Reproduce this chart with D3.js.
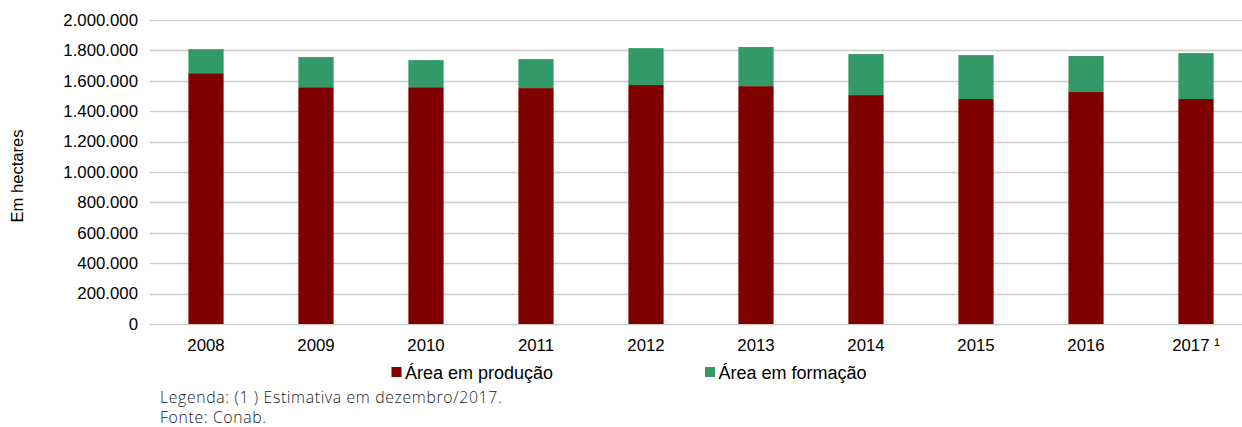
<!DOCTYPE html>
<html><head><meta charset="utf-8">
<script src="https://cdn.jsdelivr.net/npm/d3@7"></script>
<style>body{margin:0;background:#fff}svg{display:block}</style>
</head><body>
<svg id="c" width="1242" height="427"></svg>
<script>
const categories = ["2008","2009","2010","2011","2012","2013","2014","2015","2016","2017 \u00B9"];
const producao = [1650000,1558000,1558000,1552000,1572000,1565000,1506000,1480000,1526000,1480000];
const formacao = [158000,198000,178000,191000,243000,257000,270000,289000,237000,302000];
const seriesNames = ["Área em produção","Área em formação"];
const seriesColors = ["#800000","#339966"];
const yTicks = [0,200000,400000,600000,800000,1000000,1200000,1400000,1600000,1800000,2000000];
const footer = ["Legenda: (1 ) Estimativa em dezembro/2017.","Fonte: Conab."];

const svg = d3.select("#c");
const x = d3.scaleBand().domain(categories).range([151,1251]).paddingInner(0.68).paddingOuter(0.34);
const y = d3.scaleLinear().domain([0,2000000]).range([324,20]);
const fmt = v => d3.format(",")(v).replace(/,/g,".");
const F = "Liberation Sans, Arial, sans-serif";

// gridlines
svg.append("g").selectAll("line").data(yTicks).join("line")
  .attr("x1",150).attr("x2",1242).attr("y1",d=>Math.round(y(d))+0.5).attr("y2",d=>Math.round(y(d))+0.5)
  .attr("stroke","#cccccc").attr("stroke-width",1.3);

// y axis labels
const yAxis = d3.axisLeft(y).tickValues(yTicks).tickFormat(fmt).tickSize(0).tickPadding(0);
const ga = svg.append("g").attr("transform","translate(138,0)").call(yAxis);
ga.select(".domain").remove();
ga.selectAll("text").attr("font-family",F).attr("font-size",16.8).attr("fill","#000");

// x axis labels
const xAxis = d3.axisBottom(x).tickSize(0).tickPadding(0);
const gx = svg.append("g").attr("transform","translate(0,339)").call(xAxis);
gx.select(".domain").remove();
gx.selectAll("text").attr("font-family",F).attr("font-size",16.8).attr("fill","#000");

// stacked bars
const rows = categories.map((c,i)=>({cat:c, p:producao[i], f:formacao[i]}));
const stack = d3.stack().keys(["p","f"])(rows);
svg.append("g").selectAll("g").data(stack).join("g")
  .attr("fill",(d,i)=>seriesColors[i])
  .selectAll("rect").data(d=>d).join("rect")
  .attr("x",d=>x(d.data.cat)).attr("width",x.bandwidth())
  .attr("y",d=>y(d[1])).attr("height",d=>y(d[0])-y(d[1]));

// y title
svg.append("text").attr("transform","translate(23,176) rotate(-90)")
  .attr("text-anchor","middle").attr("font-family",F)
  .attr("font-size",16.6).text("Em hectares");

// legend
const legX = [391.5,705];
const lg = svg.append("g").selectAll("g").data(seriesNames).join("g")
  .attr("transform",(d,i)=>`translate(${legX[i]},367)`);
lg.append("rect").attr("width",10).attr("height",10).attr("fill",(d,i)=>seriesColors[i]);
lg.append("text").attr("x",13.5).attr("y",11.5).attr("font-family",F)
  .attr("font-size",18).attr("fill","#000").text(d=>d);

// footer
svg.append("g").selectAll("text").data(footer).join("text")
  .attr("x",160).attr("y",(d,i)=>403+i*20)
  .attr("font-family","Open Sans, sans-serif").attr("font-size",15.8).attr("fill","#1a1a1a")
  .attr("font-weight",300).attr("letter-spacing",0.65)
  .text(d=>d);
</script>
</body></html>
